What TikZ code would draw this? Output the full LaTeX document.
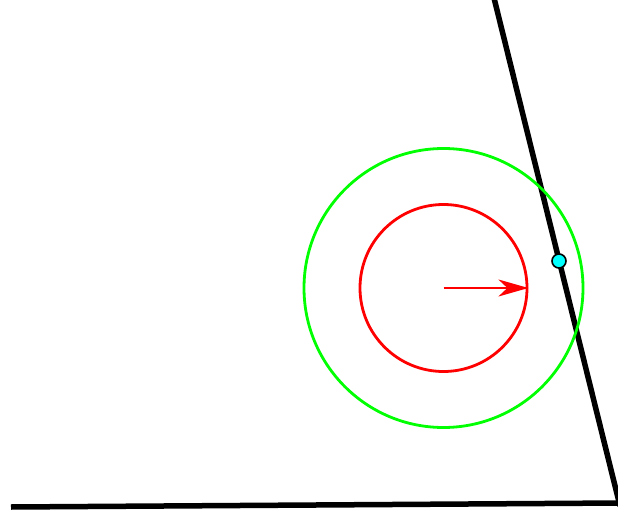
\documentclass[tikz,border=0pt]{standalone}
\usepackage{tikz}
\usetikzlibrary{arrows.meta, positioning}
\definecolor{ringgreen}{RGB}{0,255,0}
\definecolor{ringred}{RGB}{255,0,0}
\definecolor{dotcyan}{RGB}{0,255,255}

\begin{document}
\begin{tikzpicture}[x=1pt, y=-1pt,
    wall/.style={line width=5.5pt},
    ring/.style={circle, line width=2.8pt, inner sep=0pt},
    dot/.style={circle, draw=black, fill=dotcyan, line width=1.6pt, minimum size=14pt, inner sep=0pt}]
            % Keep the page the size of the reference
            \useasboundingbox (0,0) rectangle (618,513);

            % The centre of both circles
            \coordinate (c) at (443.5,288);

            % The two walls (black)
            \coordinate (wallTop) at (494,-2);
            \coordinate (wallBot) at (620,506);
            \coordinate (floorL) at (11,507);
            \coordinate (floorR) at (620,503);
            \draw[wall] (wallTop) -- (wallBot);
            \draw[wall] (floorL) -- (floorR);

            % Outer circle in green, inner circle in red
            \node[ring, draw=ringgreen, minimum size=279pt] (outer) at (c) {};
            \node[ring, draw=ringred, minimum size=167pt] (inner) at (c) {};

            % Radius arrow
            \draw[ringred, line width=1.4pt, -{Stealth[length=30pt, width=17pt, inset=9pt]}] (c) -- (inner.east);

            % Contact point on the wall
            \node[dot] (p) at (559,261) {};
\end{tikzpicture}
\end{document}
